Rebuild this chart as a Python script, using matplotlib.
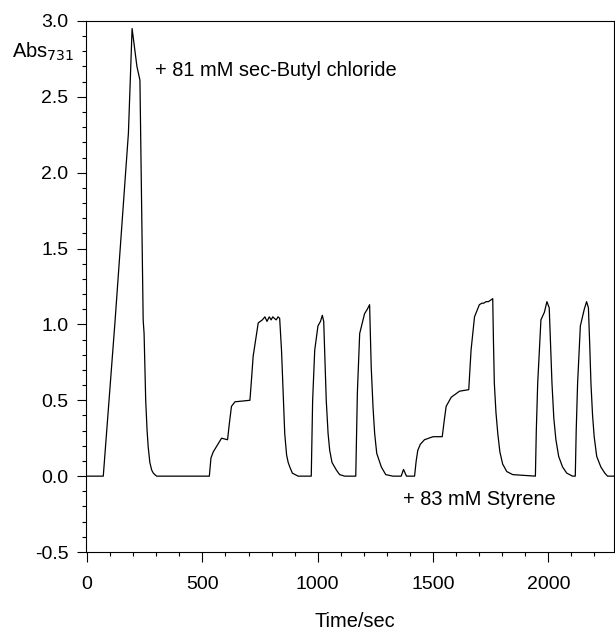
import matplotlib
matplotlib.use("Agg")
from matplotlib import pyplot as plt
from matplotlib.ticker import MultipleLocator

plt.rcParams['font.family'] = ['Liberation Sans', 'DejaVu Sans']

# absorbance trace (time in s, Abs at 731 nm)
time = [0, 70, 121, 179, 195, 216, 229, 243, 247, 254, 260, 265, 272, 280, 287, 301,
        530, 537, 547, 569, 583, 609, 617, 626, 641, 706, 712, 720, 742, 760, 771,
        780, 790, 798, 805, 812, 820, 828, 835, 843, 850, 857, 865, 872, 879, 890, 915, 972,
        978, 987, 1001, 1012, 1020, 1026, 1037, 1045, 1052, 1062, 1081, 1095, 1117, 1165,
        1172, 1182, 1203, 1215, 1225, 1232, 1240, 1247, 1256, 1276, 1295, 1326,
        1362, 1372, 1385, 1420,
        1427, 1434, 1445, 1463, 1500, 1540, 1549, 1557, 1579, 1615, 1655, 1660, 1665, 1680,
        1701, 1712, 1720, 1730, 1740, 1750, 1759, 1762, 1766, 1773, 1781, 1790, 1802, 1820,
        1846, 1944,
        1948, 1954, 1968, 1983, 1994, 2004, 2010, 2016, 2024, 2033, 2045, 2062, 2080, 2105,
        2117, 2121, 2127, 2139, 2156, 2166, 2174, 2180, 2185, 2192, 2199, 2210, 2228, 2245,
        2257, 2285]
absorb = [0, 0, 1.02, 2.26, 2.95, 2.70, 2.61, 1.03, 0.94, 0.50, 0.30, 0.19, 0.09, 0.04, 0.02, 0,
          0, 0.12, 0.16, 0.215, 0.25, 0.24, 0.35, 0.46, 0.49, 0.50, 0.62, 0.79, 1.01, 1.03, 1.05,
          1.02, 1.05, 1.03, 1.05, 1.04, 1.03, 1.05, 1.04, 0.83, 0.55, 0.28, 0.14, 0.09, 0.06, 0.02, 0, 0,
          0.50, 0.83, 0.99, 1.02, 1.06, 1.02, 0.50, 0.28, 0.17, 0.09, 0.04, 0.01, 0, 0,
          0.55, 0.94, 1.07, 1.10, 1.13, 0.72, 0.45, 0.28, 0.15, 0.06, 0.01, 0,
          0, 0.044, 0, 0,
          0.10, 0.17, 0.21, 0.24, 0.26, 0.26, 0.37, 0.46, 0.52, 0.56, 0.57, 0.70, 0.83, 1.05,
          1.13, 1.14, 1.14, 1.15, 1.15, 1.16, 1.17, 0.90, 0.61, 0.42, 0.28, 0.16, 0.08, 0.03,
          0.01, 0,
          0.30, 0.61, 1.03, 1.08, 1.15, 1.11, 0.85, 0.61, 0.38, 0.24, 0.13, 0.06, 0.02, 0,
          0, 0.30, 0.61, 0.99, 1.10, 1.15, 1.11, 0.85, 0.61, 0.40, 0.26, 0.13, 0.06, 0.02,
          0, 0]

fig = plt.figure(figsize=(6.15, 6.3), dpi=100)
ax = fig.add_axes([0.1398, 0.1238, 0.8586, 0.8429])

ax.plot(time, absorb, color='black', lw=0.9)

ax.set_xlim(-5, 2285)
ax.set_ylim(-0.5, 3.0)
ax.xaxis.set_major_locator(MultipleLocator(500))
ax.xaxis.set_minor_locator(MultipleLocator(100))
ax.yaxis.set_major_locator(MultipleLocator(0.5))
ax.yaxis.set_minor_locator(MultipleLocator(0.1))
ax.yaxis.set_major_formatter(lambda v, p: f"{v:.1f}")
ax.tick_params(which='major', direction='out', length=6.5, width=0.8, labelsize=14)
ax.tick_params(axis='x', which='major', length=7.2, pad=10)
ax.tick_params(axis='y', which='major', pad=6)
ax.tick_params(which='minor', direction='out', length=3.2, width=0.8)
for s in ax.spines.values():
    s.set_linewidth(0.8)

fig.text(0.0195, 0.908, "Abs$_{731}$", fontsize=14.4, va='baseline', ha='left')
ax.text(294, 2.635, "+ 81 mM sec-Butyl chloride", fontsize=14.4, va='baseline')
ax.text(1368, -0.191, "+ 83 mM Styrene", fontsize=14.4, va='baseline')
fig.text(0.512, 0.0053, "Time/sec", fontsize=14.4, ha='left', va='baseline')

plt.savefig("out.png", dpi=100)
